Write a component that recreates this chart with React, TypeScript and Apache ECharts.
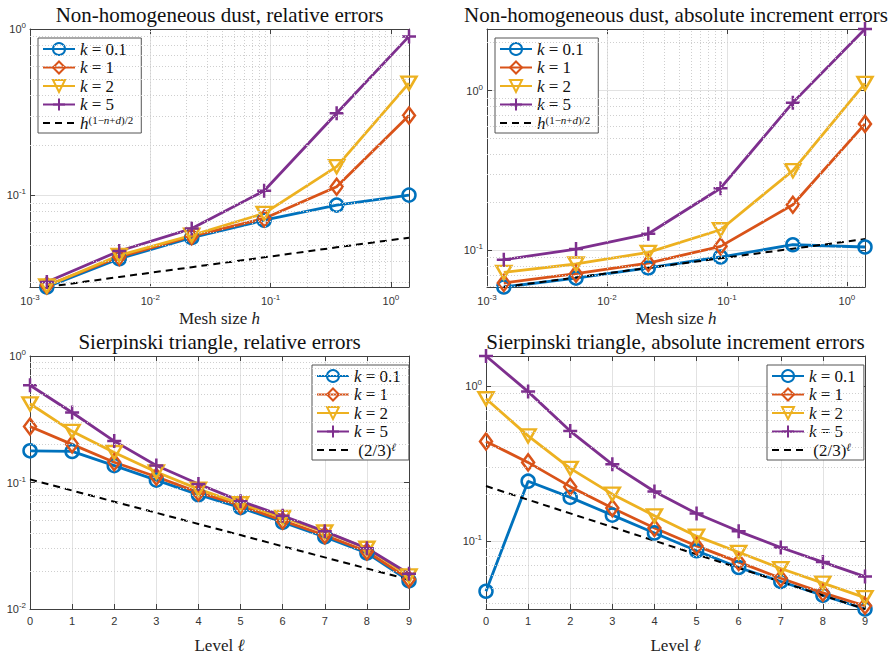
import React, { useEffect, useRef } from "react";
import * as echarts from "echarts";

// ---------- data ----------
const meshSizes = [0.00138, 0.00552, 0.0221, 0.0884, 0.354, 1.414];
const levels = [0, 1, 2, 3, 4, 5, 6, 7, 8, 9];

// Non-homogeneous dust, relative errors
const dustRelK01 = [0.0282, 0.0417, 0.0558, 0.071, 0.0875, 0.1005];
const dustRelK1 = [0.0288, 0.0427, 0.0569, 0.0727, 0.1128, 0.302];
const dustRelK2 = [0.0286, 0.0437, 0.0577, 0.078, 0.149, 0.473];
const dustRelK5 = [0.0302, 0.0464, 0.0633, 0.1067, 0.312, 0.903];
const dustRelRef = [0.0282, 0.0324, 0.0371, 0.0425, 0.0488, 0.0558];

// Non-homogeneous dust, absolute increment errors
const dustIncK01 = [0.059, 0.0671, 0.0776, 0.0909, 0.1085, 0.105];
const dustIncK1 = [0.0625, 0.0715, 0.0833, 0.106, 0.193, 0.619];
const dustIncK2 = [0.0729, 0.0822, 0.0972, 0.1346, 0.316, 1.11];
const dustIncK5 = [0.0874, 0.102, 0.127, 0.245, 0.841, 2.43];
const dustIncRef = [0.059, 0.0677, 0.0777, 0.0892, 0.1025, 0.1177];

// Sierpinski triangle, relative errors
const sierRelK01 = [0.178, 0.176, 0.136, 0.1045, 0.0801, 0.0633, 0.0485, 0.0372, 0.0277, 0.0167];
const sierRelK1 = [0.277, 0.2003, 0.1447, 0.111, 0.0835, 0.0659, 0.0499, 0.0383, 0.0285, 0.0172];
const sierRelK2 = [0.419, 0.2537, 0.1727, 0.1212, 0.0886, 0.0679, 0.053, 0.0406, 0.0302, 0.0183];
const sierRelK5 = [0.587, 0.3575, 0.2125, 0.1364, 0.0974, 0.0712, 0.0546, 0.0411, 0.0302, 0.019];
const sierRelRef = [0.1058, 0.0864, 0.0705, 0.0576, 0.047, 0.0384, 0.0313, 0.0256, 0.0209, 0.0171];

// Sierpinski triangle, absolute increment errors
const sierIncK01 = [0.0475, 0.2429, 0.191, 0.1468, 0.1128, 0.0866, 0.0675, 0.0549, 0.0447, 0.0365];
const sierIncK1 = [0.4383, 0.321, 0.224, 0.163, 0.1212, 0.093, 0.0732, 0.0576, 0.0464, 0.0383];
const sierIncK2 = [0.825, 0.4755, 0.294, 0.2004, 0.1454, 0.1075, 0.0846, 0.0665, 0.0536, 0.0432];
const sierIncK5 = [1.555, 0.917, 0.511, 0.3118, 0.2084, 0.1503, 0.1155, 0.0909, 0.0732, 0.059];
const sierIncRef = [0.226, 0.1845, 0.1507, 0.123, 0.1004, 0.082, 0.067, 0.0547, 0.0446, 0.0365];

const seriesNames = ["k = 0.1", "k = 1", "k = 2", "k = 5"];
const refNameDust = "h-ref";
const refNameSier = "l-ref";
const titles = [
  "Non-homogeneous dust, relative errors",
  "Non-homogeneous dust, absolute increment errors",
  "Sierpinski triangle, relative errors",
  "Sierpinski triangle, absolute increment errors",
];

// ---------- styling ----------
const COLORS = ["#0072BD", "#D95319", "#EDB120", "#7E2F8E"];
const SYMBOLS = ["circle", "diamond", "triangle", "path://M0,-10L0,10M-10,0L10,0"];
const SYMBOL_SIZES: any[] = [[13, 13], [12, 16], [15, 13], [14, 14]];
const SYMBOL_ROT = [0, 0, 180, 0];
const SERIF = '"Liberation Serif", "DejaVu Serif", serif';
const SANS = '"Liberation Sans", Arial, sans-serif';
const AXIS_COLOR = "#404040";
const LABEL_COLOR = "#333";

const grids = [
  { left: 30, top: 29, width: 379, height: 258 },
  { left: 487, top: 29, width: 378, height: 258 },
  { left: 30, top: 356, width: 379, height: 260 },
  { left: 486, top: 356, width: 379, height: 260 },
];

const logLabel = (v: number) => {
  const e = Math.log10(v);
  const r = Math.round(e);
  if (Math.abs(e - r) > 1e-6) return "";
  return "10{s|" + r + "}";
};

const minorLogs = (min: number, max: number) => {
  const out: number[] = [];
  for (let e = Math.floor(Math.log10(min)); e <= Math.ceil(Math.log10(max)); e++) {
    for (let m = 2; m <= 9; m++) {
      const v = m * Math.pow(10, e);
      if (v > min * 1.0001 && v < max * 0.9999) out.push(v);
    }
  }
  return out;
};

const supRich = {
  s: { fontSize: 8, fontFamily: SANS, color: LABEL_COLOR, verticalAlign: "bottom", padding: [0, 0, 7, 0] },
};

function mainAxis(kind: "x" | "y", g: number, cfg: any) {
  const isLog = cfg.type === "log";
  return {
    type: cfg.type,
    gridIndex: g,
    min: cfg.min,
    max: cfg.max,
    ...(cfg.interval ? { interval: cfg.interval } : {}),
    position: kind === "x" ? "bottom" : "left",
    axisLine: { show: true, onZero: false, lineStyle: { color: AXIS_COLOR, width: 1 } },
    axisTick: { show: true, inside: true, length: 5, lineStyle: { color: AXIS_COLOR } },
    axisLabel: {
      show: true,
      color: LABEL_COLOR,
      fontSize: 11,
      fontFamily: SANS,
      margin: kind === "x" ? 6 : 4,
      formatter: isLog ? logLabel : (v: number) => String(v),
      rich: supRich,
      showMinLabel: true,
      showMaxLabel: true,
    },
    splitLine: { show: true, lineStyle: { color: "#e2e2e2", width: 1 } },
    ...(cfg.name
      ? {
          name: cfg.name,
          nameLocation: "middle",
          nameGap: cfg.nameGap,
          nameTextStyle: {
            fontFamily: SERIF,
            fontSize: 17,
            lineHeight: 17,
            color: "#222",
            rich: { i: { fontFamily: SERIF, fontSize: 17, lineHeight: 17, fontStyle: "italic", color: "#222" } },
          },
        }
      : {}),
  };
}

function boxAxis(kind: "x" | "y", g: number, cfg: any) {
  return {
    type: cfg.type,
    gridIndex: g,
    min: cfg.min,
    max: cfg.max,
    ...(cfg.interval ? { interval: cfg.interval } : {}),
    position: kind === "x" ? "top" : "right",
    axisLine: { show: true, onZero: false, lineStyle: { color: AXIS_COLOR, width: 1 } },
    axisTick: { show: true, inside: true, length: 5, lineStyle: { color: AXIS_COLOR } },
    axisLabel: { show: false },
    splitLine: { show: false },
  };
}

const axisCfg = [
  {
    x: { type: "log", min: 0.001, max: 1.414, name: "Mesh size {i|h}", nameGap: 23 },
    y: { type: "log", min: 0.0282, max: 1 },
  },
  {
    x: { type: "log", min: 0.001, max: 1.414, name: "Mesh size {i|h}", nameGap: 23 },
    y: { type: "log", min: 0.059, max: 2.43 },
  },
  {
    x: { type: "value", min: 0, max: 9, interval: 1, name: "Level {i|ℓ}", nameGap: 28 },
    y: { type: "log", min: 0.01, max: 1 },
  },
  {
    x: { type: "value", min: 0, max: 9, interval: 1, name: "Level {i|ℓ}", nameGap: 28 },
    y: { type: "log", min: 0.0365, max: 1.555 },
  },
];

const plotData = [
  { xs: meshSizes, ks: [dustRelK01, dustRelK1, dustRelK2, dustRelK5], ref: dustRelRef, refName: refNameDust },
  { xs: meshSizes, ks: [dustIncK01, dustIncK1, dustIncK2, dustIncK5], ref: dustIncRef, refName: refNameDust },
  { xs: levels, ks: [sierRelK01, sierRelK1, sierRelK2, sierRelK5], ref: sierRelRef, refName: refNameSier },
  { xs: levels, ks: [sierIncK01, sierIncK1, sierIncK2, sierIncK5], ref: sierIncRef, refName: refNameSier },
];

const legendPos = [
  { left: 38, top: 38 },
  { left: 495, top: 38 },
  { left: 312, top: 365 },
  { left: 767, top: 365 },
];

const legendText: Record<string, string> = {
  "k = 0.1": "{i|k} = 0.1",
  "k = 1": "{i|k} = 1",
  "k = 2": "{i|k} = 2",
  "k = 5": "{i|k} = 5",
  "h-ref": "{i|h}{s|(1−}{si|n}{s|+}{si|d}{s|)/2}",
  "l-ref": " (2/3){si|ℓ}",
};

function buildOption() {
  const xAxis: any[] = [];
  const yAxis: any[] = [];
  const series: any[] = [];
  const legend: any[] = [];
  const graphic: any[] = [];

  grids.forEach((_, g) => {
    const cfg = axisCfg[g];
    xAxis.push(mainAxis("x", g, cfg.x), boxAxis("x", g, cfg.x));
    yAxis.push(mainAxis("y", g, cfg.y), boxAxis("y", g, cfg.y));
    const xi = 2 * g;
    const yi = 2 * g;

    // minor grid lines (dotted) for log axes
    const marks: any[] = [];
    if (cfg.x.type === "log") minorLogs(cfg.x.min, cfg.x.max).forEach((v) => marks.push({ xAxis: v }));
    if (cfg.y.type === "log") minorLogs(cfg.y.min, cfg.y.max).forEach((v) => marks.push({ yAxis: v }));
    series.push({
      type: "line",
      name: "_minor" + g,
      xAxisIndex: xi,
      yAxisIndex: yi,
      data: [],
      silent: true,
      markLine: {
        silent: true,
        symbol: ["none", "none"],
        label: { show: false },
        emphasis: { disabled: true },
        lineStyle: { type: [1, 2], color: "#cfcfcf", width: 1 },
        data: marks,
      },
    });

    const pd = plotData[g];
    pd.ks.forEach((vals, k) => {
      series.push({
        type: "line",
        name: seriesNames[k],
        xAxisIndex: xi,
        yAxisIndex: yi,
        data: pd.xs.map((x, i) => [x, vals[i]]),
        clip: false,
        symbol: SYMBOLS[k],
        symbolSize: SYMBOL_SIZES[k],
        symbolRotate: SYMBOL_ROT[k],
        showAllSymbol: true,
        lineStyle: { color: COLORS[k], width: 2.8 },
        itemStyle: { color: "rgba(255,255,255,0)", borderColor: COLORS[k], borderWidth: 2.5 },
        emphasis: { disabled: true },
      });
    });
    series.push({
      type: "line",
      name: pd.refName,
      xAxisIndex: xi,
      yAxisIndex: yi,
      data: pd.xs.map((x, i) => [x, pd.ref[i]]),
      clip: false,
      symbol: "none",
      lineStyle: { color: "#000", width: 2, type: [7, 5] },
      itemStyle: { color: "rgba(0,0,0,0)", borderWidth: 0 },
      emphasis: { disabled: true },
    });

    legend.push({
      ...legendPos[g],
      orient: "vertical",
      data: [...seriesNames, pd.refName],
      itemWidth: 32,
      itemHeight: 15,
      itemGap: 0.5,
      padding: [2, 8, 1, 4],
      backgroundColor: "#fff",
      borderColor: "#555",
      borderWidth: 1,
      selectedMode: false,
      formatter: (name: string) => legendText[name] || name,
      textStyle: {
        fontFamily: SERIF,
        fontSize: 17,
        lineHeight: 18,
        color: "#111",
        rich: {
          i: { fontFamily: SERIF, fontSize: 17, lineHeight: 18, fontStyle: "italic", color: "#111" },
          s: { fontFamily: SERIF, fontSize: 11, lineHeight: 11, color: "#111", verticalAlign: "bottom", padding: [0, 0, 7, 0] },
          si: { fontFamily: SERIF, fontSize: 11, lineHeight: 11, fontStyle: "italic", color: "#111", verticalAlign: "bottom", padding: [0, 0, 7, 0] },
        },
      },
    });

    const gr = grids[g];
    graphic.push({
      type: "text",
      x: gr.left + gr.width / 2,
      y: gr.top - 14,
      silent: true,
      style: {
        text: titles[g],
        font: '21px "Liberation Serif", "DejaVu Serif", serif',
        fill: "#111",
        align: "center",
        verticalAlign: "middle",
        textAlign: "center",
        textVerticalAlign: "middle",
      },
    });
  });

  return {
    animation: false,
    backgroundColor: "#fff",
    grid: grids.map((g) => ({ ...g, containLabel: false })),
    xAxis,
    yAxis,
    legend,
    series,
    graphic,
  };
}

export default function App() {
  const ref = useRef<HTMLDivElement>(null);
  useEffect(() => {
    if (!ref.current) return;
    const chart = echarts.init(ref.current, undefined, { renderer: "svg" });
    chart.setOption(buildOption() as any);
    return () => chart.dispose();
  }, []);
  return (
    <div
      ref={ref}
      style={{ position: "fixed", left: 0, top: 0, width: 894, height: 655, background: "#fff" }}
    />
  );
}
